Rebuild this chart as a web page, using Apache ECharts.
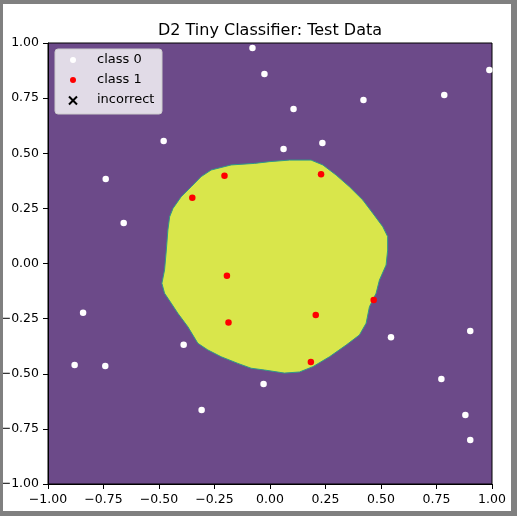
<!DOCTYPE html>
<html><head><meta charset="utf-8">
<script src="https://cdn.jsdelivr.net/npm/echarts@6/dist/echarts.min.js"></script>
<style>html,body{margin:0;padding:0;background:#fff}#c{width:517px;height:516px}</style>
</head><body><div id="c"></div>
<script>
const titleText = 'D2 Tiny Classifier: Test Data';
const tickValues = [-1, -0.75, -0.5, -0.25, 0, 0.25, 0.5, 0.75, 1];
const legendLabels = ['class 0', 'class 1', 'incorrect'];

const class0X = [-0.079, -0.025, 0.988, 0.106, 0.421, 0.785, -0.479, 0.061, 0.236, -0.740, -0.659, -0.842, -0.389, 0.545, 0.902, -0.880, -0.742, -0.029, 0.772, -0.308, 0.880, 0.902];
const class0Y = [0.977, 0.859, 0.878, 0.701, 0.741, 0.764, 0.556, 0.519, 0.546, 0.383, 0.184, -0.223, -0.368, -0.335, -0.306, -0.460, -0.465, -0.547, -0.524, -0.664, -0.687, -0.800];

const class1X = [-0.205, 0.230, -0.350, -0.194, -0.187, 0.206, 0.467, 0.184];
const class1Y = [0.398, 0.405, 0.298, -0.055, -0.268, -0.234, -0.166, -0.447];

const boundaryX = [-0.265, -0.175, -0.070, -0.002, 0.088, 0.185, 0.238, 0.298, 0.358, 0.418, 0.463, 0.508, 0.530, 0.530, 0.523, 0.493, 0.478, 0.448, 0.433, 0.403, 0.343, 0.268, 0.193, 0.133, 0.065, -0.025, -0.085, -0.145, -0.220, -0.280, -0.325, -0.370, -0.415, -0.445, -0.475, -0.487, -0.475, -0.467, -0.460, -0.452, -0.437, -0.400, -0.355, -0.310];
const boundaryY = [0.424, 0.447, 0.454, 0.462, 0.469, 0.469, 0.447, 0.401, 0.348, 0.288, 0.228, 0.167, 0.122, 0.061, -0.007, -0.075, -0.135, -0.196, -0.271, -0.324, -0.370, -0.423, -0.468, -0.492, -0.497, -0.483, -0.475, -0.453, -0.423, -0.392, -0.362, -0.287, -0.226, -0.180, -0.135, -0.090, -0.029, 0.061, 0.152, 0.212, 0.250, 0.303, 0.348, 0.394];

const PURPLE = '#6c4a89';
const YELLOW = '#d9e64b';
const FONT = 'DejaVu Sans';
const fmt = v => v.toFixed(2).replace('-', '\u2212');

const chart = echarts.init(document.getElementById('c'), null, {renderer: 'canvas'});

const axisCommon = {
  type: 'value', min: tickValues[0], max: tickValues[tickValues.length - 1], interval: 0.25,
  axisLine: {show: true, onZero: false, lineStyle: {color: '#000', width: 1}},
  axisTick: {show: true, inside: false, length: 5, lineStyle: {color: '#000', width: 1}},
  axisLabel: {fontFamily: FONT, fontSize: 12.5, color: '#000', formatter: fmt, showMinLabel: true, showMaxLabel: true, hideOverlap: false},
  splitLine: {show: false}
};

const legendX = 55, legendY = 49;
chart.setOption({
  animation: false,
  backgroundColor: '#fff',
  title: {text: titleText, left: 265, top: 18, textAlign: 'center',
    textStyle: {fontFamily: FONT, fontSize: 16, fontWeight: 'normal', color: '#000'}},
  grid: {left: 48, top: 43, width: 444, height: 441, containLabel: false, outerBoundsMode: 'none',
    show: true, backgroundColor: PURPLE, borderColor: '#000', borderWidth: 1},
  xAxis: Object.assign({}, axisCommon, {axisLabel: Object.assign({}, axisCommon.axisLabel, {margin: 9})}),
  yAxis: Object.assign({}, axisCommon, {axisLabel: Object.assign({}, axisCommon.axisLabel, {margin: 9})}),
  series: [
    {
      type: 'custom', name: 'region', data: [[0, 0]], silent: true, z: 1,
      renderItem: function (params, api) {
        const pts = boundaryX.map((x, i) => api.coord([x, boundaryY[i]]));
        return {type: 'polygon', shape: {points: pts}, style: {fill: YELLOW, stroke: '#2f9a88', lineWidth: 1}};
      }
    },
    {type: 'scatter', name: legendLabels[0], z: 3, symbolSize: 6.5, itemStyle: {color: '#fff', opacity: 1},
      data: class0X.map((x, i) => [x, class0Y[i]])},
    {type: 'scatter', name: legendLabels[1], z: 3, symbolSize: 6.5, itemStyle: {color: '#ff0000', opacity: 1},
      data: class1X.map((x, i) => [x, class1Y[i]])}
  ],
  graphic: [
    {type: 'rect', z: 50, shape: {x: legendX, y: legendY, width: 107, height: 65, r: 3},
      style: {fill: 'rgba(255,255,255,0.8)', stroke: '#cccccc', lineWidth: 1}},
    {type: 'circle', z: 51, shape: {cx: 73, cy: 60, r: 3}, style: {fill: '#fff'}},
    {type: 'circle', z: 51, shape: {cx: 73, cy: 80, r: 3}, style: {fill: '#ff0000'}},
    {type: 'polyline', z: 51, shape: {points: [[69, 96.5], [77, 104.5]]}, style: {stroke: '#000', lineWidth: 2}},
    {type: 'polyline', z: 51, shape: {points: [[77, 96.5], [69, 104.5]]}, style: {stroke: '#000', lineWidth: 2}},
    {type: 'text', z: 51, x: 97, y: 60, style: {text: legendLabels[0], fontFamily: FONT, fontSize: 13, fill: '#000', verticalAlign: 'middle'}},
    {type: 'text', z: 51, x: 97, y: 80, style: {text: legendLabels[1], fontFamily: FONT, fontSize: 13, fill: '#000', verticalAlign: 'middle'}},
    {type: 'text', z: 51, x: 97, y: 100, style: {text: legendLabels[2], fontFamily: FONT, fontSize: 13, fill: '#000', verticalAlign: 'middle'}},
    {type: 'rect', z: 100, shape: {x: 0, y: 0, width: 3, height: 516}, style: {fill: '#808080'}},
    {type: 'rect', z: 100, shape: {x: 0, y: 0, width: 517, height: 4}, style: {fill: '#808080'}},
    {type: 'rect', z: 100, shape: {x: 511, y: 0, width: 6, height: 516}, style: {fill: '#808080'}},
    {type: 'rect', z: 100, shape: {x: 0, y: 511, width: 517, height: 5}, style: {fill: '#808080'}}
  ]
});
</script>
</body></html>
